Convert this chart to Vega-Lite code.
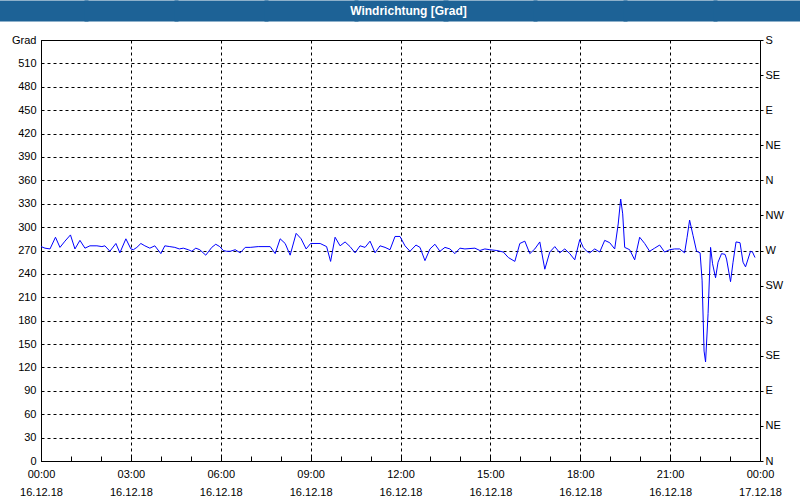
{
  "$schema": "https://vega.github.io/schema/vega-lite/v6.json",
  "autosize": {"type": "none"},
  "padding": {"left": 41, "top": 40, "right": 40, "bottom": 39},
  "width": 719,
  "height": 421,
  "background": "white",
  "config": {
    "view": {"stroke": "black", "strokeWidth": 1},
    "font": "Liberation Sans",
    "axis": {"labelFont": "Liberation Sans", "labelFontSize": 11, "labelColor": "black", "domainColor": "black", "tickColor": "black"}
  },
  "data": {"values": [
    {"t": "2018-12-16T00:00", "v": 275}, {"t": "2018-12-16T00:08", "v": 273}, {"t": "2018-12-16T00:18", "v": 272},
    {"t": "2018-12-16T00:29", "v": 287}, {"t": "2018-12-16T00:38", "v": 274}, {"t": "2018-12-16T00:48", "v": 282},
    {"t": "2018-12-16T00:59", "v": 290}, {"t": "2018-12-16T01:08", "v": 272}, {"t": "2018-12-16T01:18", "v": 283},
    {"t": "2018-12-16T01:28", "v": 273}, {"t": "2018-12-16T01:38", "v": 276}, {"t": "2018-12-16T01:52", "v": 276},
    {"t": "2018-12-16T02:02", "v": 275}, {"t": "2018-12-16T02:08", "v": 276}, {"t": "2018-12-16T02:18", "v": 269},
    {"t": "2018-12-16T02:30", "v": 279}, {"t": "2018-12-16T02:38", "v": 267}, {"t": "2018-12-16T02:50", "v": 285},
    {"t": "2018-12-16T03:00", "v": 272}, {"t": "2018-12-16T03:05", "v": 271}, {"t": "2018-12-16T03:12", "v": 274},
    {"t": "2018-12-16T03:20", "v": 279}, {"t": "2018-12-16T03:28", "v": 276}, {"t": "2018-12-16T03:38", "v": 273},
    {"t": "2018-12-16T03:48", "v": 276}, {"t": "2018-12-16T04:00", "v": 266}, {"t": "2018-12-16T04:08", "v": 276},
    {"t": "2018-12-16T04:18", "v": 275}, {"t": "2018-12-16T04:28", "v": 274}, {"t": "2018-12-16T04:37", "v": 272},
    {"t": "2018-12-16T04:45", "v": 273}, {"t": "2018-12-16T04:55", "v": 271}, {"t": "2018-12-16T05:02", "v": 269},
    {"t": "2018-12-16T05:10", "v": 273}, {"t": "2018-12-16T05:18", "v": 271}, {"t": "2018-12-16T05:30", "v": 264},
    {"t": "2018-12-16T05:42", "v": 274}, {"t": "2018-12-16T05:50", "v": 278}, {"t": "2018-12-16T05:58", "v": 275},
    {"t": "2018-12-16T06:05", "v": 270}, {"t": "2018-12-16T06:12", "v": 269}, {"t": "2018-12-16T06:19", "v": 269},
    {"t": "2018-12-16T06:29", "v": 271}, {"t": "2018-12-16T06:39", "v": 267}, {"t": "2018-12-16T06:49", "v": 274},
    {"t": "2018-12-16T06:59", "v": 274}, {"t": "2018-12-16T07:15", "v": 275}, {"t": "2018-12-16T07:39", "v": 275},
    {"t": "2018-12-16T07:49", "v": 266}, {"t": "2018-12-16T07:59", "v": 285}, {"t": "2018-12-16T08:09", "v": 279},
    {"t": "2018-12-16T08:19", "v": 264}, {"t": "2018-12-16T08:31", "v": 292}, {"t": "2018-12-16T08:41", "v": 285},
    {"t": "2018-12-16T08:51", "v": 272}, {"t": "2018-12-16T09:00", "v": 279}, {"t": "2018-12-16T09:19", "v": 279},
    {"t": "2018-12-16T09:32", "v": 275}, {"t": "2018-12-16T09:40", "v": 256}, {"t": "2018-12-16T09:49", "v": 287},
    {"t": "2018-12-16T09:59", "v": 276}, {"t": "2018-12-16T10:09", "v": 281}, {"t": "2018-12-16T10:19", "v": 275},
    {"t": "2018-12-16T10:29", "v": 267}, {"t": "2018-12-16T10:39", "v": 276}, {"t": "2018-12-16T10:49", "v": 274},
    {"t": "2018-12-16T10:59", "v": 282}, {"t": "2018-12-16T11:09", "v": 267}, {"t": "2018-12-16T11:19", "v": 276},
    {"t": "2018-12-16T11:29", "v": 274}, {"t": "2018-12-16T11:39", "v": 271}, {"t": "2018-12-16T11:49", "v": 288},
    {"t": "2018-12-16T11:59", "v": 288}, {"t": "2018-12-16T12:09", "v": 276}, {"t": "2018-12-16T12:19", "v": 269},
    {"t": "2018-12-16T12:31", "v": 277}, {"t": "2018-12-16T12:39", "v": 274}, {"t": "2018-12-16T12:49", "v": 257},
    {"t": "2018-12-16T12:59", "v": 272}, {"t": "2018-12-16T13:09", "v": 278}, {"t": "2018-12-16T13:19", "v": 269},
    {"t": "2018-12-16T13:29", "v": 274}, {"t": "2018-12-16T13:39", "v": 272}, {"t": "2018-12-16T13:49", "v": 266},
    {"t": "2018-12-16T13:59", "v": 273}, {"t": "2018-12-16T14:09", "v": 272}, {"t": "2018-12-16T14:29", "v": 273},
    {"t": "2018-12-16T14:39", "v": 270}, {"t": "2018-12-16T14:49", "v": 272}, {"t": "2018-12-16T14:59", "v": 271},
    {"t": "2018-12-16T15:13", "v": 270}, {"t": "2018-12-16T15:26", "v": 268}, {"t": "2018-12-16T15:36", "v": 261},
    {"t": "2018-12-16T15:49", "v": 256}, {"t": "2018-12-16T15:59", "v": 279}, {"t": "2018-12-16T16:09", "v": 282},
    {"t": "2018-12-16T16:19", "v": 266}, {"t": "2018-12-16T16:29", "v": 272}, {"t": "2018-12-16T16:39", "v": 281},
    {"t": "2018-12-16T16:49", "v": 246}, {"t": "2018-12-16T16:59", "v": 268}, {"t": "2018-12-16T17:09", "v": 275},
    {"t": "2018-12-16T17:19", "v": 267}, {"t": "2018-12-16T17:29", "v": 272}, {"t": "2018-12-16T17:39", "v": 266},
    {"t": "2018-12-16T17:49", "v": 258}, {"t": "2018-12-16T17:59", "v": 284}, {"t": "2018-12-16T18:06", "v": 274},
    {"t": "2018-12-16T18:13", "v": 269}, {"t": "2018-12-16T18:19", "v": 267}, {"t": "2018-12-16T18:29", "v": 272},
    {"t": "2018-12-16T18:39", "v": 268}, {"t": "2018-12-16T18:49", "v": 283}, {"t": "2018-12-16T18:59", "v": 280},
    {"t": "2018-12-16T19:09", "v": 272}, {"t": "2018-12-16T19:16", "v": 304}, {"t": "2018-12-16T19:21", "v": 336},
    {"t": "2018-12-16T19:25", "v": 317}, {"t": "2018-12-16T19:29", "v": 274}, {"t": "2018-12-16T19:39", "v": 271},
    {"t": "2018-12-16T19:49", "v": 258}, {"t": "2018-12-16T19:59", "v": 287}, {"t": "2018-12-16T20:09", "v": 279},
    {"t": "2018-12-16T20:19", "v": 269}, {"t": "2018-12-16T20:29", "v": 273}, {"t": "2018-12-16T20:39", "v": 277},
    {"t": "2018-12-16T20:49", "v": 268}, {"t": "2018-12-16T20:59", "v": 271}, {"t": "2018-12-16T21:09", "v": 272},
    {"t": "2018-12-16T21:19", "v": 272}, {"t": "2018-12-16T21:29", "v": 267}, {"t": "2018-12-16T21:34", "v": 287},
    {"t": "2018-12-16T21:39", "v": 309}, {"t": "2018-12-16T21:46", "v": 289}, {"t": "2018-12-16T21:53", "v": 269},
    {"t": "2018-12-16T22:00", "v": 267}, {"t": "2018-12-16T22:04", "v": 232}, {"t": "2018-12-16T22:08", "v": 141},
    {"t": "2018-12-16T22:11", "v": 127}, {"t": "2018-12-16T22:16", "v": 189}, {"t": "2018-12-16T22:21", "v": 274},
    {"t": "2018-12-16T22:25", "v": 253}, {"t": "2018-12-16T22:31", "v": 235}, {"t": "2018-12-16T22:36", "v": 255},
    {"t": "2018-12-16T22:43", "v": 266}, {"t": "2018-12-16T22:50", "v": 265}, {"t": "2018-12-16T22:53", "v": 259},
    {"t": "2018-12-16T23:01", "v": 230}, {"t": "2018-12-16T23:06", "v": 255}, {"t": "2018-12-16T23:12", "v": 281},
    {"t": "2018-12-16T23:20", "v": 280}, {"t": "2018-12-16T23:26", "v": 255}, {"t": "2018-12-16T23:31", "v": 249},
    {"t": "2018-12-16T23:36", "v": 259}, {"t": "2018-12-16T23:41", "v": 269}, {"t": "2018-12-16T23:45", "v": 268},
    {"t": "2018-12-16T23:50", "v": 261}
  ]},
  "layer": [
    {
      "mark": {"type": "line", "color": "#0000FF", "strokeWidth": 1},
      "encoding": {
        "x": {
          "field": "t", "type": "temporal",
          "scale": {"domain": ["2018-12-16T00:00", "2018-12-17T00:00"], "nice": false},
          "axis": {
            "title": null,
            "tickCount": 8,
            "ticks": false,
            "labelExpr": "[timeFormat(datum.value, '%H:%M'), timeFormat(datum.value, '%d.%m.%y')]",
            "labelFlush": false,
            "labelOverlap": false,
            "labelPadding": 7,
            "labelLineHeight": 18,
            "grid": true,
            "gridColor": "black",
            "gridDash": [3, 3]
          }
        },
        "y": {
          "field": "v", "type": "quantitative",
          "scale": {"domain": [0, 540], "nice": false, "zero": false},
          "axis": {
            "title": null,
            "values": [0, 30, 60, 90, 120, 150, 180, 210, 240, 270, 300, 330, 360, 390, 420, 450, 480, 510, 540],
            "labelExpr": "datum.value == 540 ? 'Grad' : datum.label",
            "ticks": false,
            "labelPadding": 5,
            "labelFlush": false,
            "labelOverlap": false,
            "grid": true,
            "gridColor": "black",
            "gridDash": [3, 3]
          }
        }
      }
    },
    {
      "mark": {"type": "line", "opacity": 0},
      "encoding": {
        "x": {
          "field": "t", "type": "temporal",
          "scale": {"domain": ["2018-12-16T00:00", "2018-12-17T00:00"], "nice": false},
          "axis": {
            "orient": "top",
            "offset": 19,
            "tickCount": 8,
            "domain": false,
            "labels": false,
            "grid": false,
            "ticks": true,
            "tickColor": "#1D6296",
            "tickWidth": 94,
            "tickSize": 21,
            "title": "Windrichtung [Grad]",
            "titleColor": "white",
            "titleFont": "Liberation Sans",
            "titleFontWeight": "bold",
            "titleFontSize": 12,
            "titleX": 367,
            "titleY": -10.5,
            "titleAlign": "center",
            "titleBaseline": "middle"
          }
        },
        "y": {
          "field": "v", "type": "quantitative",
          "scale": {"domain": [0, 540], "nice": false, "zero": false},
          "axis": {
            "orient": "right",
            "title": null,
            "values": [0, 45, 90, 135, 180, 225, 270, 315, 360, 405, 450, 495, 540],
            "labelExpr": "datum.value % 360 == 0 ? 'N' : datum.value % 360 == 45 ? 'NE' : datum.value % 360 == 90 ? 'E' : datum.value % 360 == 135 ? 'SE' : datum.value % 360 == 180 ? 'S' : datum.value % 360 == 225 ? 'SW' : datum.value % 360 == 270 ? 'W' : 'NW'",
            "grid": false,
            "tickSize": 3,
            "labelPadding": 2,
            "labelFlush": false,
            "labelOverlap": false
          }
        }
      }
    },
    {
      "mark": {"type": "line", "opacity": 0},
      "encoding": {
        "x": {
          "field": "t", "type": "temporal",
          "scale": {"domain": ["2018-12-16T00:00", "2018-12-17T00:00"], "nice": false},
          "axis": {
            "orient": "bottom",
            "offset": -5,
            "tickCount": 24,
            "domain": false,
            "labels": false,
            "grid": false,
            "ticks": true,
            "tickSize": 5,
            "title": null
          }
        },
        "y": {
          "field": "v", "type": "quantitative",
          "scale": {"domain": [0, 540], "nice": false, "zero": false},
          "axis": null
        }
      }
    }
  ],
  "resolve": {"scale": {"x": "independent", "y": "independent"}}
}
